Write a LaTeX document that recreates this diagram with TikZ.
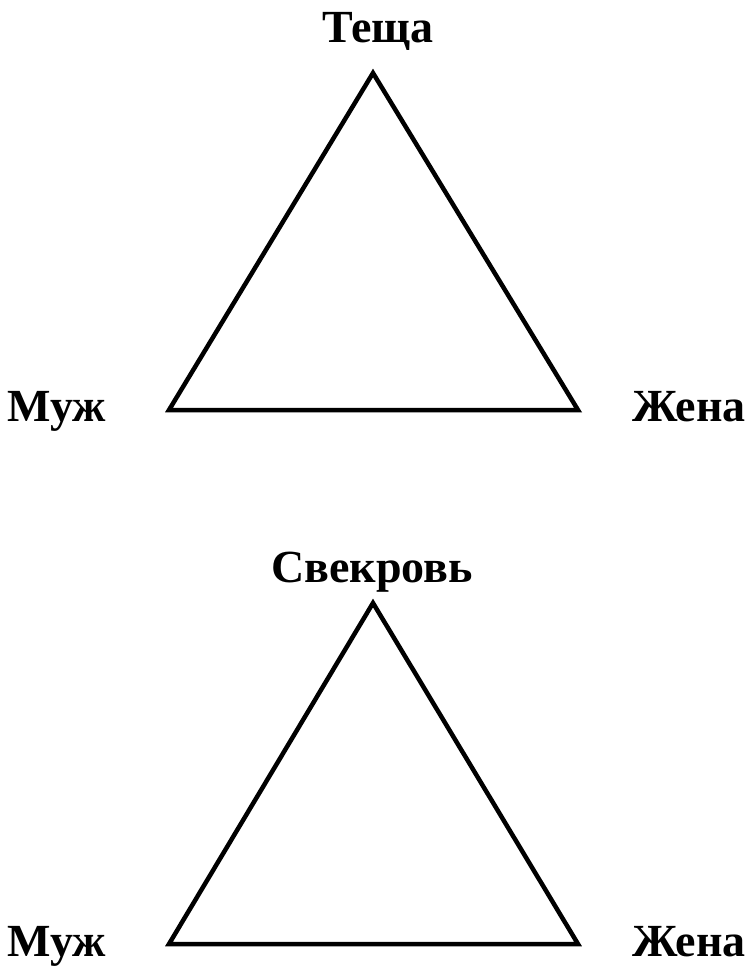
\documentclass[tikz,border=0pt]{standalone}
\usepackage{fontspec}
\setmainfont{Liberation Serif}
\begin{document}
\begin{tikzpicture}[x=1pt,y=-1pt,line width=4.5pt,line join=miter]
\tikzset{kin/.style={font=\fontsize{46}{52}\selectfont\bfseries,anchor=base,inner sep=0pt}}
\useasboundingbox (0,0) rectangle (750,972);
% upper triangle
\coordinate (t1) at (373,73);
\coordinate (m1) at (169,410);
\coordinate (w1) at (578,410);
\draw (t1) -- (m1) -- (w1) -- cycle;
\node[kin] (tescha) at (378,42) {Теща};
\node[kin] (muzh1) at (57,421) {Муж};
\node[kin] (zhena1) at (689,421) {Жена};
% lower triangle
\coordinate (t2) at (373,603);
\coordinate (m2) at (169,944);
\coordinate (w2) at (578,944);
\draw (t2) -- (m2) -- (w2) -- cycle;
\node[kin] (svekrov) at (372,582) {Свекровь};
\node[kin] (muzh2) at (57,956) {Муж};
\node[kin] (zhena2) at (689,956) {Жена};
\end{tikzpicture}
\end{document}
